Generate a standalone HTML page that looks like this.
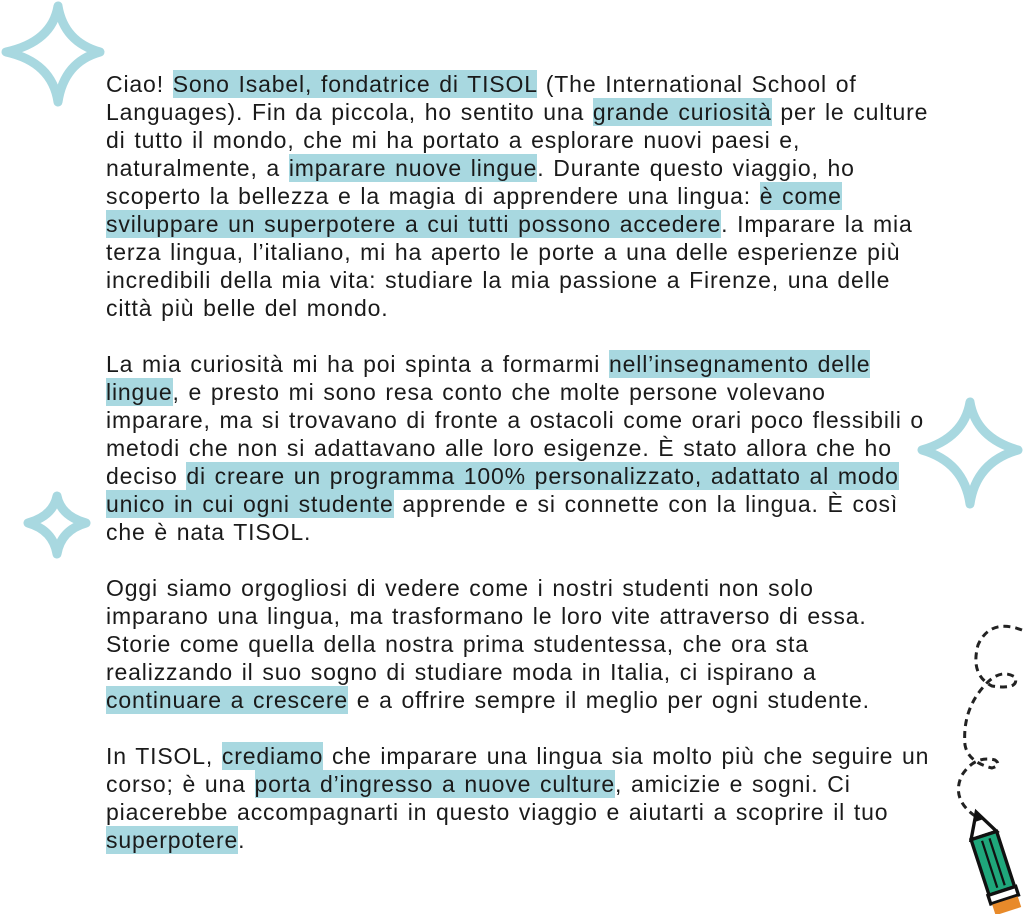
<!DOCTYPE html>
<html><head><meta charset="utf-8"><style>
body{margin:0;width:1024px;height:914px;background:#fff;position:relative;overflow:hidden;font-family:"Liberation Sans",sans-serif;}
.l{position:absolute;left:106px;height:28px;line-height:28px;font-size:23px;letter-spacing:0.85px;word-spacing:1.5px;color:#1a1a1a;white-space:nowrap}
.h{background:#a8d8e0;padding:1px 0}
svg{position:absolute;left:0;top:0}
</style></head><body>
<svg width="1024" height="914">
<g fill="none" stroke="#a8d8e0" stroke-width="9" stroke-linejoin="round">
<path d="M58 6 Q64 42 100 52 Q64 62 58 102 Q52 62 6 52 Q52 42 58 6Z"/>
<path d="M970 402 Q976 438 1018 450 Q976 462 970 504 Q964 462 922 450 Q964 438 970 402Z"/>
<path d="M57 496 Q61 516 86 523 Q61 530 57 554 Q53 530 28 523 Q53 516 57 496Z"/>
</g>
<path d="M1022 630 Q990 618 978 645 Q970 675 992 686 Q1020 690 1015 677 Q1000 668 985 685 Q962 710 965 745 Q968 762 992 768 Q1002 765 995 760 Q975 755 962 775 Q950 800 978 818" fill="none" stroke="#222" stroke-width="3" stroke-dasharray="7 5"/>
<g transform="translate(997 876) rotate(-18) scale(1.12)">
<path d="M-12 -38 L0 -60 L12 -38Z" fill="#fff" stroke="#111" stroke-width="3"/>
<path d="M-5 -52 L0 -60 L5 -52Z" fill="#111"/>
<rect x="-12" y="-38" width="24" height="52" fill="#1fa77b" stroke="#111" stroke-width="3"/>
<line x1="-3" y1="-34" x2="-3" y2="10" stroke="#111" stroke-width="2"/>
<line x1="4" y1="-34" x2="4" y2="10" stroke="#111" stroke-width="2"/>
<rect x="-13" y="14" width="26" height="8" fill="#fff" stroke="#111" stroke-width="3"/>
<rect x="-12" y="23" width="24" height="10" fill="#e88a2a"/>
</g>
</svg>
<div class="l" style="top:70px">Ciao! <span class="h">Sono Isabel, fondatrice di TISOL</span> (The International School of</div>
<div class="l" style="top:98px">Languages). Fin da piccola, ho sentito una <span class="h">grande curiosità</span> per le culture</div>
<div class="l" style="top:126px">di tutto il mondo, che mi ha portato a esplorare nuovi paesi e,</div>
<div class="l" style="top:154px">naturalmente, a <span class="h">imparare nuove lingue</span>. Durante questo viaggio, ho</div>
<div class="l" style="top:182px">scoperto la bellezza e la magia di apprendere una lingua: <span class="h">è come</span></div>
<div class="l" style="top:210px"><span class="h">sviluppare un superpotere a cui tutti possono accedere</span>. Imparare la mia</div>
<div class="l" style="top:238px">terza lingua, l’italiano, mi ha aperto le porte a una delle esperienze più</div>
<div class="l" style="top:266px">incredibili della mia vita: studiare la mia passione a Firenze, una delle</div>
<div class="l" style="top:294px">città più belle del mondo.</div>
<div class="l" style="top:350px">La mia curiosità mi ha poi spinta a formarmi <span class="h">nell’insegnamento delle</span></div>
<div class="l" style="top:378px"><span class="h">lingue</span>, e presto mi sono resa conto che molte persone volevano</div>
<div class="l" style="top:406px">imparare, ma si trovavano di fronte a ostacoli come orari poco flessibili o</div>
<div class="l" style="top:434px">metodi che non si adattavano alle loro esigenze. È stato allora che ho</div>
<div class="l" style="top:462px">deciso <span class="h">di creare un programma 100% personalizzato, adattato al modo</span></div>
<div class="l" style="top:490px"><span class="h">unico in cui ogni studente</span> apprende e si connette con la lingua. È così</div>
<div class="l" style="top:518px">che è nata TISOL.</div>
<div class="l" style="top:574px">Oggi siamo orgogliosi di vedere come i nostri studenti non solo</div>
<div class="l" style="top:602px">imparano una lingua, ma trasformano le loro vite attraverso di essa.</div>
<div class="l" style="top:630px">Storie come quella della nostra prima studentessa, che ora sta</div>
<div class="l" style="top:658px">realizzando il suo sogno di studiare moda in Italia, ci ispirano a</div>
<div class="l" style="top:686px"><span class="h">continuare a crescere</span> e a offrire sempre il meglio per ogni studente.</div>
<div class="l" style="top:742px">In TISOL, <span class="h">crediamo</span> che imparare una lingua sia molto più che seguire un</div>
<div class="l" style="top:770px">corso; è una <span class="h">porta d’ingresso a nuove culture</span>, amicizie e sogni. Ci</div>
<div class="l" style="top:798px">piacerebbe accompagnarti in questo viaggio e aiutarti a scoprire il tuo</div>
<div class="l" style="top:826px"><span class="h">superpotere</span>.</div>
</body></html>
